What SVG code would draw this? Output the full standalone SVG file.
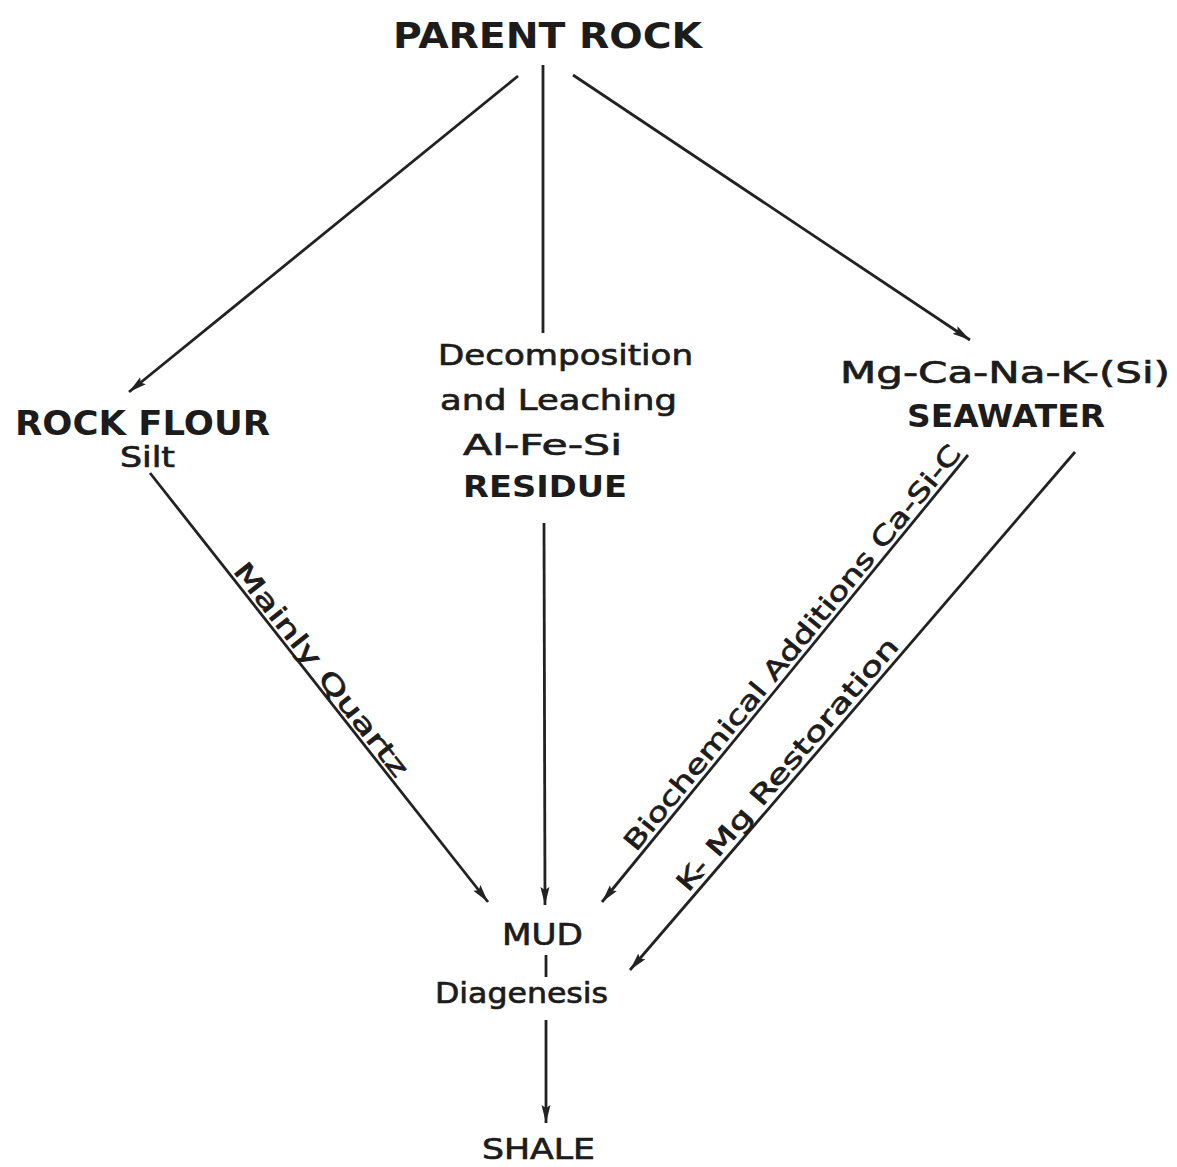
<svg xmlns="http://www.w3.org/2000/svg" width="1177" height="1167" viewBox="0 0 1177 1167">
<style>
text{font-family:"DejaVu Sans","Liberation Sans",sans-serif;fill:#1c1c1c}
.b{font-weight:bold}
.n{font-weight:normal;stroke:#1c1c1c;stroke-width:0.7}
.ln{stroke:#222;stroke-width:2.8;fill:none}
.arr{marker-end:url(#ah)}
</style>
<defs>
<marker id="ah" markerUnits="userSpaceOnUse" markerWidth="20" markerHeight="12" refX="18" refY="5" orient="auto">
<path d="M0,0.5 L18,5 L0,9.5 L3,5 Z" fill="#222"/>
</marker>
</defs>
<rect width="1177" height="1167" fill="#fff"/>
<g id="connectors">
<line class="ln arr" x1="518" y1="76" x2="129" y2="392"/>
<line class="ln" x1="543" y1="65" x2="543" y2="333"/>
<line class="ln arr" x1="573" y1="75" x2="970" y2="340"/>
<line class="ln arr" x1="150" y1="473" x2="488" y2="902"/>
<line class="ln arr" x1="544" y1="523" x2="545" y2="905"/>
<line class="ln arr" x1="968" y1="455" x2="602" y2="902"/>
<line class="ln arr" x1="1075" y1="452" x2="630" y2="970"/>
<line class="ln" x1="546" y1="955" x2="546" y2="977"/>
<line class="ln arr" x1="546" y1="1020" x2="546" y2="1123"/>
<text class="n" font-size="26" transform="translate(232.3,571.1) rotate(51.8)" textLength="265" lengthAdjust="spacingAndGlyphs">Mainly Quartz</text>
<text class="n" font-size="26" transform="translate(636.1,852.4) rotate(-50.7)" textLength="515" lengthAdjust="spacingAndGlyphs">Biochemical Additions Ca-Si-C</text>
<text class="n" font-size="26" transform="translate(688.1,893.3) rotate(-49.3)" textLength="325" lengthAdjust="spacingAndGlyphs">K- Mg Restoration</text>
</g>
<g id="parent-rock">
<text class="b" x="393" y="48" font-size="36" textLength="309" lengthAdjust="spacingAndGlyphs">PARENT ROCK</text>
</g>
<g id="rock-flour">
<text class="b" x="15" y="435" font-size="34" textLength="255" lengthAdjust="spacingAndGlyphs">ROCK FLOUR</text>
<text class="n" x="120" y="467" font-size="28" textLength="55" lengthAdjust="spacingAndGlyphs">Silt</text>
</g>
<g id="residue">
<text class="n" x="438" y="365" font-size="29" textLength="255" lengthAdjust="spacingAndGlyphs">Decomposition</text>
<text class="n" x="440" y="410" font-size="29" textLength="237" lengthAdjust="spacingAndGlyphs">and Leaching</text>
<text class="n" x="463" y="455" font-size="28" textLength="159" lengthAdjust="spacingAndGlyphs">Al-Fe-Si</text>
<text class="b" x="463" y="497" font-size="30" textLength="164" lengthAdjust="spacingAndGlyphs">RESIDUE</text>
</g>
<g id="seawater">
<text class="n" x="840" y="383" font-size="30" textLength="330" lengthAdjust="spacingAndGlyphs">Mg-Ca-Na-K-(Si)</text>
<text class="b" x="907" y="427" font-size="32" textLength="198" lengthAdjust="spacingAndGlyphs">SEAWATER</text>
</g>
<g id="mud">
<text class="n" x="502" y="945" font-size="31" textLength="81" lengthAdjust="spacingAndGlyphs">MUD</text>
<text class="n" x="435" y="1003" font-size="28" textLength="173" lengthAdjust="spacingAndGlyphs">Diagenesis</text>
</g>
<g id="shale">
<text class="n" x="482" y="1159" font-size="29" textLength="113" lengthAdjust="spacingAndGlyphs">SHALE</text>
</g>
</svg>
